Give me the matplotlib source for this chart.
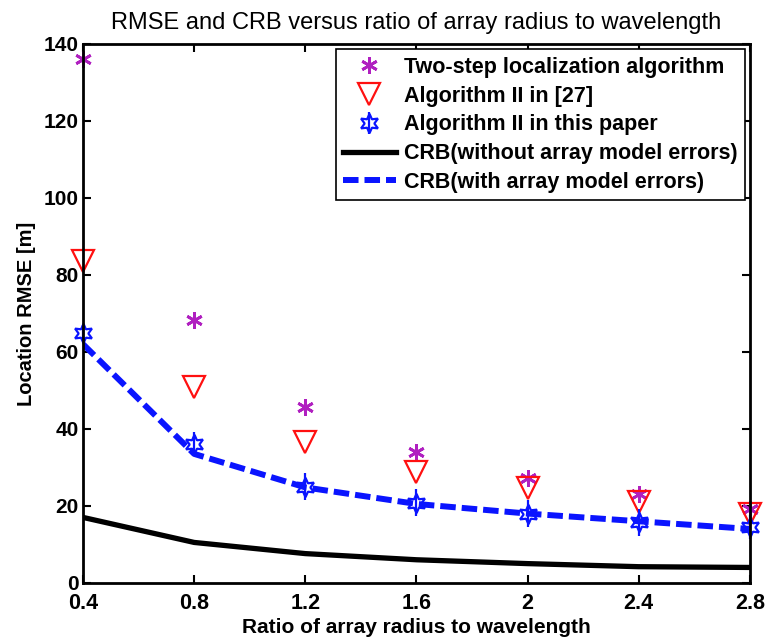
import matplotlib.pyplot as plt
import numpy as np

# Ratio of array radius to wavelength
ratio = [0.4, 0.8, 1.2, 1.6, 2.0, 2.4, 2.8]
xtick_labels = ['0.4', '0.8', '1.2', '1.6', '2', '2.4', '2.8']

# RMSE values (m)
two_step = [136.0, 68.3, 45.7, 34.0, 27.3, 23.0, 19.3]
alg2_ref27 = [83.6, 51.0, 36.6, 28.8, 24.6, 21.0, 18.0]
alg2_paper = [65.0, 36.2, 25.0, 20.8, 18.0, 15.8, 14.5]
alg2_paper_err = [2.0, 3.0, 3.5, 3.5, 3.5, 3.5, 3.0]
crb_no_err = [17.0, 10.5, 7.6, 6.0, 5.0, 4.2, 4.0]
crb_with_err = [62.0, 33.5, 24.8, 20.5, 18.0, 16.0, 14.0]

plt.rcParams['font.family'] = ['Liberation Sans', 'DejaVu Sans']

fig = plt.figure(figsize=(7.69, 6.37), dpi=100)
ax = fig.add_axes([0.108, 0.085, 0.867, 0.846])

h1, = ax.plot(ratio, two_step, linestyle='none', marker=(6, 2, 0), markersize=12,
              markeredgewidth=2, color='#b020c0', clip_on=False,
              label='Two-step localization algorithm')
h2, = ax.plot(ratio, alg2_ref27, linestyle='none', marker='v', markersize=16,
              markerfacecolor='none', markeredgewidth=1.6, color='#ff1010',
              clip_on=False, label='Algorithm II in [27]')
h3 = ax.errorbar(ratio, alg2_paper, yerr=alg2_paper_err, linestyle='none',
                 marker=(6, 1, 0), markersize=14, markerfacecolor='none',
                 markeredgewidth=1.6, color='#0a14ff', elinewidth=1.6, capsize=0,
                 label='Algorithm II in this paper')
for art in h3.get_children():
    art.set_clip_on(False)
h4, = ax.plot(ratio, crb_no_err, color='black', linewidth=3.8,
              label='CRB(without array model errors)')
h5, = ax.plot(ratio, crb_with_err, color='#0a14ff', linewidth=4.3,
              linestyle=(0, (2.6, 1.0)), label='CRB(with array model errors)')

ax.set_xlim(0.4, 2.8)
ax.set_ylim(0, 140)
ax.set_xticks(ratio)
ax.set_xticklabels(xtick_labels)
ax.set_yticks(np.arange(0, 141, 20))
ax.tick_params(direction='in', top=True, right=True, length=6, width=1.5)
ax.tick_params(axis='x', labelsize=15.5, pad=7)
ax.tick_params(axis='y', labelsize=15, pad=3)
for lbl in ax.get_xticklabels() + ax.get_yticklabels():
    lbl.set_fontweight('bold')
for s in ax.spines.values():
    s.set_linewidth(2)

ax.set_xlabel('Ratio of array radius to wavelength', fontsize=15,
              fontweight='bold', labelpad=3)
ax.set_ylabel('Location RMSE [m]', fontsize=14.5, fontweight='bold', labelpad=6)
ax.set_title('RMSE and CRB versus ratio of array radius to wavelength',
             fontsize=17, pad=11)

leg = ax.legend([h1, h2, h3, h4, h5],
                ['Two-step localization algorithm', 'Algorithm II in [27]',
                 'Algorithm II in this paper', 'CRB(without array model errors)',
                 'CRB(with array model errors)'],
                loc='upper right', bbox_to_anchor=(0.996, 0.994),
                prop={'weight': 'bold', 'size': 15.5}, frameon=True,
                fancybox=False, edgecolor='black', handlelength=2.45,
                handletextpad=0.37, borderpad=0.35, labelspacing=0.36,
                borderaxespad=0.1, framealpha=1)
leg.get_frame().set_linewidth(1.2)

fig.savefig('out.png', dpi=100)
